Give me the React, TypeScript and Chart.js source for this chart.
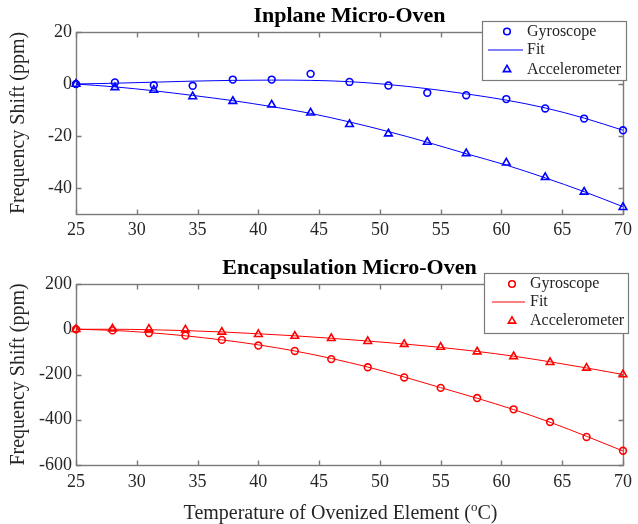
import React, { useEffect, useRef } from 'react';
import { Chart, registerables } from 'chart.js';

Chart.register(...registerables);

const FONT = "'Liberation Serif', 'Times New Roman', Times, serif";
const AXIS_COLOR = '#7a7a7a';
const TEXT_COLOR = '#262626';
const TITLE_SIZE = 22;

// ---------- Data ----------
const xTicks = [25, 30, 35, 40, 45, 50, 55, 60, 65, 70];

const inplaneTemps = [25, 28.2, 31.4, 34.6, 37.9, 41.1, 44.3, 47.5, 50.7, 53.9, 57.1, 60.4, 63.6, 66.8, 70];
const inplaneGyro = [0, 0.6, -0.5, -0.7, 1.7, 1.7, 3.9, 0.8, -0.6, -3.4, -4.3, -5.8, -9.4, -13.3, -17.8];
const inplaneGyroFit = [0, 0.3, 0.7, 1.1, 1.4, 1.5, 1.4, 0.9, -0.2, -1.8, -3.8, -6.2, -9.2, -13.1, -17.8];
const inplaneAccel = [0, -1.3, -2.3, -4.8, -6.6, -8.0, -11.1, -15.5, -19.1, -22.3, -26.7, -30.3, -35.9, -41.5, -47.4];
const inplaneAccelFit = [0, -1.1, -2.6, -4.4, -6.4, -8.7, -11.3, -14.6, -18.3, -22.4, -26.8, -31.2, -36.1, -41.4, -47.2];
const inplaneYTicks = [-40, -20, 0, 20];

const encapTemps = [25, 28, 31, 34, 37, 40, 43, 46, 49, 52, 55, 58, 61, 64, 67, 70];
const encapGyro = [0, -5, -17, -28, -47, -72, -96, -132, -168, -213, -259, -304, -354, -410, -476, -537];
const encapGyroFit = [0, -5, -15, -29, -47, -69, -96, -129, -167, -211, -258, -305, -355, -411, -473, -538];
const encapAccel = [0, 2, 1, -2, -12, -22, -30, -40, -53, -66, -79, -99, -120, -146, -171, -200];
const encapAccelFit = [0, 0, -2, -6, -12, -20, -29, -40, -52, -65, -80, -98, -119, -144, -171, -200];
const encapYTicks = [-600, -400, -200, 0, 200];

const legendLabels = ['Gyroscope', 'Fit', 'Accelerometer'];

// ---------- Plugins ----------
const framePlugin = {
  id: 'matlabFrame',
  beforeDatasetsDraw(chart: any) {
    const { ctx, chartArea: a, scales } = chart;
    const L = Math.round(a.left) + 0.5;
    const R = Math.round(a.right) + 0.5;
    const T = Math.round(a.top) + 0.5;
    const B = Math.round(a.bottom) + 0.5;
    ctx.save();
    ctx.strokeStyle = AXIS_COLOR;
    ctx.lineWidth = 1.4;
    ctx.strokeRect(L, T, R - L, B - T);
    ctx.beginPath();
    scales.x.ticks.forEach((t: any) => {
      const px = Math.round(scales.x.getPixelForValue(t.value)) + 0.5;
      ctx.moveTo(px, B);
      ctx.lineTo(px, B - 5);
      ctx.moveTo(px, T);
      ctx.lineTo(px, T + 5);
    });
    scales.y.ticks.forEach((t: any) => {
      const py = Math.round(scales.y.getPixelForValue(t.value)) + 0.5;
      ctx.moveTo(L, py);
      ctx.lineTo(L + 5, py);
      ctx.moveTo(R, py);
      ctx.lineTo(R - 5, py);
    });
    ctx.stroke();
    ctx.restore();
  },
};

const legendPlugin = {
  id: 'matlabLegend',
  afterDraw(chart: any, _args: any, opts: any) {
    if (!opts || !opts.box) return;
    const { ctx } = chart;
    const [x1, y1, x2, y2] = opts.box;
    ctx.save();
    ctx.fillStyle = '#ffffff';
    ctx.fillRect(x1, y1, x2 - x1, y2 - y1);
    ctx.strokeStyle = AXIS_COLOR;
    ctx.lineWidth = 1.2;
    ctx.strokeRect(x1 + 0.5, y1 + 0.5, x2 - x1, y2 - y1);
    ctx.strokeStyle = opts.color;
    // gyroscope marker (circle)
    ctx.lineWidth = 1.6;
    ctx.beginPath();
    ctx.arc(opts.markerX, opts.rows[0], 3.3, 0, Math.PI * 2);
    ctx.stroke();
    // fit line
    ctx.lineWidth = 1;
    ctx.beginPath();
    ctx.moveTo(opts.line[0], opts.rows[1]);
    ctx.lineTo(opts.line[1], opts.rows[1]);
    ctx.stroke();
    // accelerometer marker (triangle)
    ctx.lineWidth = 1.6;
    const r = 4.2;
    const cx = opts.markerX;
    const cy = opts.rows[2];
    ctx.beginPath();
    ctx.moveTo(cx, cy - r);
    ctx.lineTo(cx + r * 0.866, cy + r * 0.5);
    ctx.lineTo(cx - r * 0.866, cy + r * 0.5);
    ctx.closePath();
    ctx.stroke();
    // labels
    ctx.fillStyle = TEXT_COLOR;
    ctx.font = `16px ${FONT}`;
    ctx.textAlign = 'left';
    ctx.textBaseline = 'middle';
    legendLabels.forEach((lbl, i) => ctx.fillText(lbl, opts.textX, opts.rows[i]));
    ctx.restore();
  },
};

const xTitlePlugin = {
  id: 'xTitleSup',
  afterDraw(chart: any, _args: any, opts: any) {
    if (!opts || !opts.y) return;
    const { ctx, chartArea: a } = chart;
    const main1 = 'Temperature of Ovenized Element (';
    const sup = 'o';
    const main2 = 'C)';
    ctx.save();
    ctx.fillStyle = TEXT_COLOR;
    ctx.textBaseline = 'alphabetic';
    ctx.textAlign = 'left';
    ctx.font = `20px ${FONT}`;
    const w1 = ctx.measureText(main1).width;
    const w3 = ctx.measureText(main2).width;
    ctx.font = `13px ${FONT}`;
    const w2 = ctx.measureText(sup).width;
    const total = w1 + w2 + w3;
    const cx = (a.left + a.right) / 2 + (opts.dx || 0);
    let x = cx - total / 2;
    const base = opts.y;
    ctx.font = `20px ${FONT}`;
    ctx.fillText(main1, x, base);
    x += w1;
    ctx.font = `13px ${FONT}`;
    ctx.fillText(sup, x, base - 8);
    x += w2;
    ctx.font = `20px ${FONT}`;
    ctx.fillText(main2, x, base);
    ctx.restore();
  },
};

// ---------- Chart builder ----------
type Spec = {
  title: string;
  color: string;
  temps: number[];
  gyro: number[];
  gyroFit: number[];
  accel: number[];
  accelFit: number[];
  yMin: number;
  yMax: number;
  yTicks: number[];
  height: number;
  plotTop: number;
  plotBottom: number;
  titleY: number;
  xTickPad: number;
  legend: any;
  xTitle?: any;
};

const pts = (xs: number[], ys: number[]) => xs.map((x, i) => ({ x, y: ys[i] }));

function buildConfig(s: Spec): any {
  const titleLH = TITLE_SIZE * 1.2;
  const titlePadTop = s.titleY - titleLH / 2;
  const titlePadBottom = s.plotTop - titleLH - titlePadTop;
  const xHeight = s.height - s.plotBottom;
  return {
    type: 'scatter',
    data: {
      datasets: [
        {
          label: 'Gyroscope',
          data: pts(s.temps, s.gyro),
          showLine: false,
          pointStyle: 'circle',
          pointRadius: 3.4,
          pointBorderWidth: 1.6,
          borderColor: s.color,
          pointBorderColor: s.color,
          backgroundColor: 'rgba(0,0,0,0)',
          pointBackgroundColor: 'rgba(0,0,0,0)',
          clip: false,
          order: 1,
        },
        {
          label: 'Fit',
          data: pts(s.temps, s.gyroFit),
          showLine: true,
          pointRadius: 0,
          borderColor: s.color,
          borderWidth: 1,
          cubicInterpolationMode: 'monotone',
          clip: false,
          order: 2,
        },
        {
          label: 'Accelerometer',
          data: pts(s.temps, s.accel),
          showLine: false,
          pointStyle: 'triangle',
          pointRadius: 4.4,
          pointBorderWidth: 1.6,
          borderColor: s.color,
          pointBorderColor: s.color,
          backgroundColor: 'rgba(0,0,0,0)',
          pointBackgroundColor: 'rgba(0,0,0,0)',
          clip: false,
          order: 1,
        },
        {
          label: 'Fit',
          data: pts(s.temps, s.accelFit),
          showLine: true,
          pointRadius: 0,
          borderColor: s.color,
          borderWidth: 1,
          cubicInterpolationMode: 'monotone',
          clip: false,
          order: 2,
        },
      ],
    },
    options: {
      animation: false,
      responsive: false,
      maintainAspectRatio: false,
      events: [],
      layout: { padding: { left: 0, right: 15, top: 0, bottom: 0 } },
      plugins: {
        legend: { display: false },
        tooltip: { enabled: false },
        title: {
          display: true,
          fullSize: false,
          text: s.title,
          color: '#000000',
          font: { family: FONT, size: TITLE_SIZE, weight: 'bold' },
          padding: { top: titlePadTop, bottom: titlePadBottom },
        },
        matlabLegend: s.legend,
        xTitleSup: s.xTitle || {},
      },
      scales: {
        x: {
          type: 'linear',
          position: 'bottom',
          min: 25,
          max: 70,
          grid: { display: false, drawTicks: false },
          border: { display: false },
          ticks: {
            color: TEXT_COLOR,
            font: { family: FONT, size: 18 },
            padding: s.xTickPad,
            maxRotation: 0,
            autoSkip: false,
          },
          afterBuildTicks: (sc: any) => {
            sc.ticks = xTicks.map((v) => ({ value: v }));
          },
          afterFit: (sc: any) => {
            sc.height = xHeight;
          },
        },
        y: {
          type: 'linear',
          position: 'left',
          min: s.yMin,
          max: s.yMax,
          grid: { display: false, drawTicks: false },
          border: { display: false },
          ticks: {
            color: TEXT_COLOR,
            font: { family: FONT, size: 18 },
            padding: 4,
            autoSkip: false,
          },
          afterBuildTicks: (sc: any) => {
            sc.ticks = s.yTicks.map((v) => ({ value: v }));
          },
          afterFit: (sc: any) => {
            sc.width = 76;
          },
          title: {
            display: true,
            text: 'Frequency Shift (ppm)',
            color: TEXT_COLOR,
            font: { family: FONT, size: 20 },
            padding: { top: 7, bottom: 0 },
          },
        },
      },
    },
    plugins: [framePlugin, legendPlugin, xTitlePlugin],
  };
}

function Panel({ spec, top }: { spec: Spec; top: number }) {
  const ref = useRef<HTMLCanvasElement | null>(null);
  useEffect(() => {
    if (!ref.current) return;
    const chart = new Chart(ref.current, buildConfig(spec));
    return () => chart.destroy();
  }, [spec]);
  return (
    <canvas
      ref={ref}
      width={638}
      height={spec.height}
      style={{ position: 'absolute', left: 0, top, width: 638, height: spec.height, display: 'block' }}
    />
  );
}

const topSpec: Spec = {
  title: 'Inplane Micro-Oven',
  color: '#0000ff',
  temps: inplaneTemps,
  gyro: inplaneGyro,
  gyroFit: inplaneGyroFit,
  accel: inplaneAccel,
  accelFit: inplaneAccelFit,
  yMin: -50,
  yMax: 20,
  yTicks: inplaneYTicks,
  height: 250,
  plotTop: 32,
  plotBottom: 214,
  titleY: 16.7,
  xTickPad: 5,
  legend: {
    box: [482, 21, 626, 80],
    color: '#0000ff',
    markerX: 507,
    textX: 527,
    line: [488, 523],
    rows: [31.5, 50, 69.5],
  },
};

const bottomSpec: Spec = {
  title: 'Encapsulation Micro-Oven',
  color: '#ff0000',
  temps: encapTemps,
  gyro: encapGyro,
  gyroFit: encapGyroFit,
  accel: encapAccel,
  accelFit: encapAccelFit,
  yMin: -600,
  yMax: 200,
  yTicks: encapYTicks,
  height: 274,
  plotTop: 34,
  plotBottom: 215,
  titleY: 18.5,
  xTickPad: 6,
  legend: {
    box: [484, 23, 628, 83],
    color: '#ff0000',
    markerX: 512,
    textX: 530,
    line: [492, 525],
    rows: [34, 52, 71],
  },
  xTitle: { y: 269, dx: -9 },
};

export default function App() {
  return (
    <div style={{ position: 'fixed', left: 0, top: 0, width: 638, height: 524, background: '#ffffff', overflow: 'hidden' }}>
      <Panel spec={topSpec} top={0} />
      <Panel spec={bottomSpec} top={250} />
    </div>
  );
}
